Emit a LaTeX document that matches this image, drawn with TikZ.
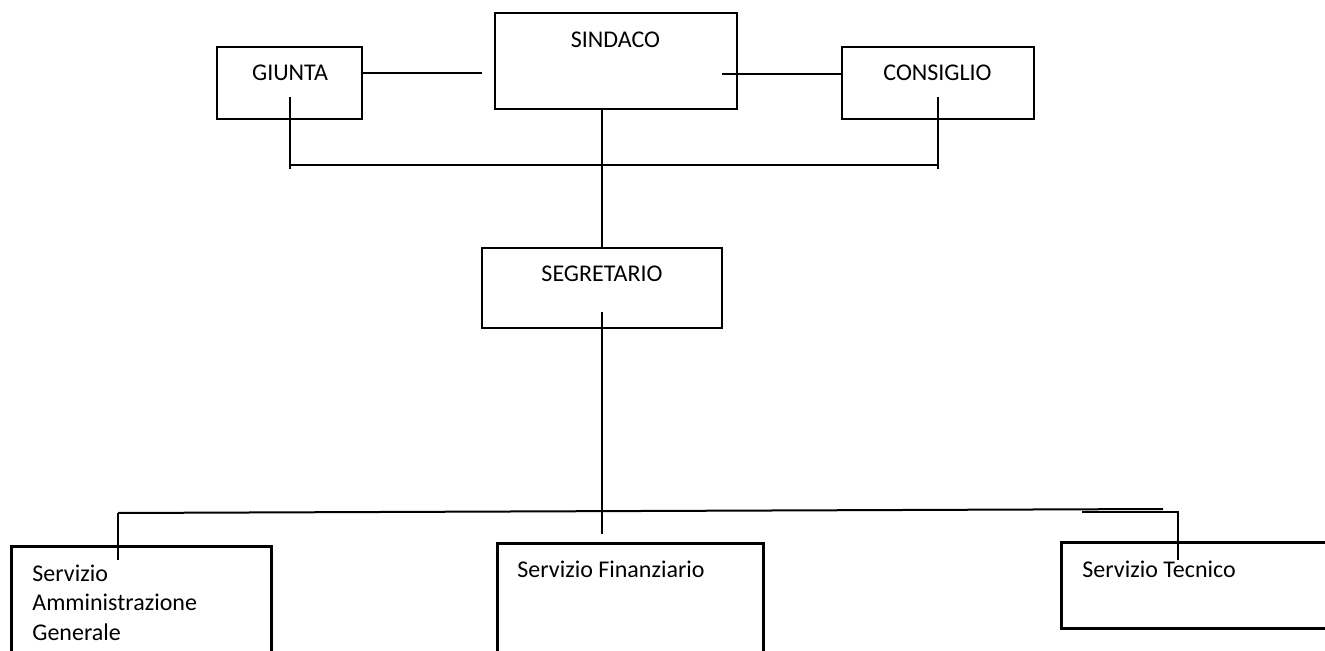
\documentclass[tikz,border=0pt]{standalone}
\usepackage{fontspec}
\setmainfont{Carlito}
\begin{document}
\begin{tikzpicture}[x=0.5pt,y=-0.5pt,
  topbox/.style={draw, line width=1pt, inner sep=0pt, rectangle},
  botbox/.style={draw, line width=1.5pt, inner sep=0pt, rectangle},
  lbl/.style={font=\fontsize{12}{14.75}\selectfont, inner sep=0pt},
  conn/.style={line width=1pt}]
\useasboundingbox (0,0) rectangle (1325,651);
% boxes
\node[topbox, minimum width=72.5pt, minimum height=36pt] (giunta) at (289.5,83) {};
\node[topbox, minimum width=121pt, minimum height=48pt] (sindaco) at (616,61) {};
\node[topbox, minimum width=96pt, minimum height=36pt] (consiglio) at (938,83) {};
\node[topbox, minimum width=120pt, minimum height=40pt] (segretario) at (602,288) {};
\node[botbox, minimum width=130pt, minimum height=70pt] (amm) at (141,616) {};
\node[botbox, minimum width=133pt, minimum height=70pt] (fin) at (630,613) {};
\node[botbox, minimum width=150pt, minimum height=43pt] (tec) at (1211,585) {};
% texts
\node[lbl, anchor=base] (tgiunta) at (290,81) {GIUNTA};
\node[lbl, anchor=base] (tsindaco) at (615.5,48) {SINDACO};
\node[lbl, anchor=base] (tconsiglio) at (937.5,81) {CONSIGLIO};
\node[lbl, anchor=base] (tsegretario) at (602,282) {SEGRETARIO};
\node[lbl, anchor=base west, align=left] (tamm) at (32,640) {Servizio\\Amministrazione\\Generale};
\node[lbl, anchor=base west] (tfin) at (517,577) {Servizio Finanziario};
\node[lbl, anchor=base west] (ttec) at (1082,577) {Servizio Tecnico};
% coordinates
\coordinate (gs) at (482,73);
\coordinate (sc) at (722,74);
\coordinate (gtop) at (290,97);
\coordinate (gbot) at (290,169);
\coordinate (ctop) at (938,97);
\coordinate (cbot) at (938,169);
\coordinate (hl) at (290,165);
\coordinate (hr) at (938,165);
\coordinate (sbot) at (602,109);
\coordinate (segtop) at (602,248);
\coordinate (seg1) at (602,312);
\coordinate (segmid) at (602,407);
\coordinate (seg2) at (602,534);
\coordinate (bl) at (118,513);
\coordinate (br) at (1163,509);
\coordinate (tl) at (1082,512);
\coordinate (tr) at (1178,512);
\coordinate (tdown) at (1178,560);
\coordinate (adown) at (118,560);
% connectors
\draw[conn] (giunta.east |- gs) -- (gs);
\draw[conn] (sc) -- (consiglio.west |- sc);
\draw[conn] (gtop) -- (gbot);
\draw[conn] (ctop) -- (cbot);
\draw[conn] (hl) -- (hr);
\draw[conn] (sbot) -- (segtop);
\draw[conn] (seg1) -- (segmid) -- (seg2);
\draw[conn] (bl) -- (br);
\draw[conn] (bl) -- (adown);
\draw[conn] (tl) -- (tr) -- (tdown);
\end{tikzpicture}
\end{document}
